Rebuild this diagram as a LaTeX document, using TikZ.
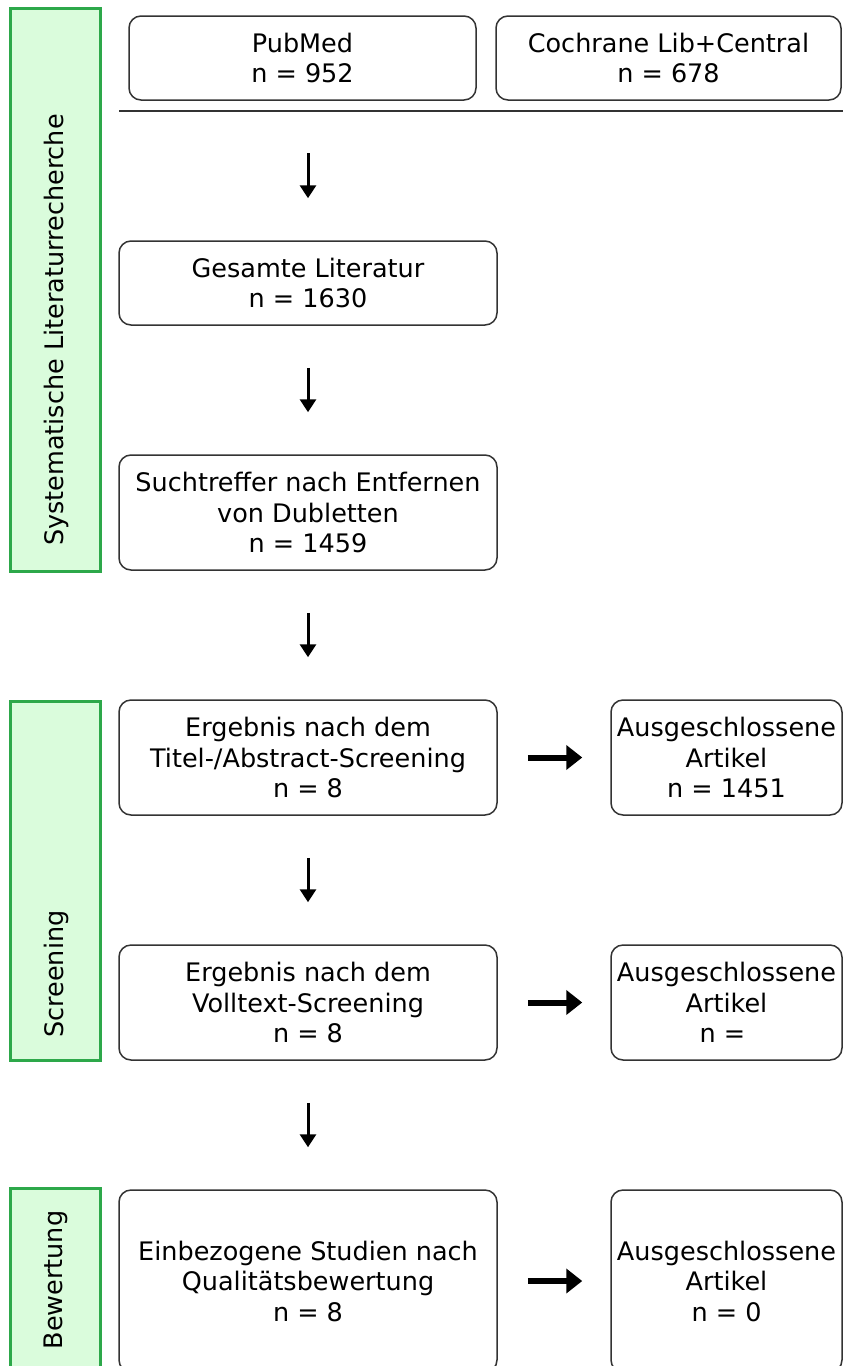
\documentclass[tikz,border=0pt]{standalone}
\usepackage{fontspec}
\setmainfont{DejaVu Sans}
\usepackage{xcolor}
\usetikzlibrary{arrows.meta}
\definecolor{phasegreen}{HTML}{2DA84A}
\definecolor{phasefill}{HTML}{DAFCDC}
\definecolor{boxgray}{HTML}{333333}

\begin{document}
\begin{tikzpicture}[x=1pt,y=-1pt,
		box/.style={draw=boxgray, line width=1.5pt, rounded corners=12pt, align=center, inner sep=2pt, font=\fontsize{25.5pt}{30.5pt}\selectfont},
		phase/.style={draw=phasegreen, fill=phasefill, line width=3pt},
		phasetext/.style={rotate=90, inner sep=0pt, font=\fontsize{25.5pt}{30.5pt}\selectfont},
		down/.style={-{Triangle[length=13pt,width=16pt]}, line width=3pt, shorten <=42pt, shorten >=42pt},
		side/.style={-{Triangle[length=16pt,width=24pt]}, line width=6pt, shorten <=30pt, shorten >=28pt}]
		\clip (0,0) rectangle (843,1366);
		\fill[white] (0,0) rectangle (843,1366);
		\draw[phase] (10,8) rectangle (100,571);
		\draw[phase] (10,701) rectangle (100,1060);
		\draw[phase] (10,1188) rectangle (100,1390);
		\node[phasetext] (searchlbl) at (56,330) {Systematische Literaturrecherche};
		\node[phasetext] (screenlbl) at (56,974) {Screening};
		\node[phasetext] (ratelbl) at (56,1280) {Bewertung};
		\node[box, minimum width=347pt, minimum height=84pt] (pubmed) at (302.5,58) {PubMed\\n = 952};
		\node[box, minimum width=345pt, minimum height=84pt] (cochrane) at (668.5,58) {Cochrane Lib+Central\\n = 678};
		\coordinate (sepL) at (119,111);
		\coordinate (sepR) at (843,111);
		\coordinate (sepM) at (308,111);
		\draw[boxgray, line width=2pt] (sepL) -- (sepR);
		\node[box, minimum width=378pt, minimum height=84pt] (gesamt) at (308,283) {Gesamte Literatur\\n = 1630};
		\node[box, minimum width=378pt, minimum height=115pt] (dubl) at (308,512.5) {Suchtreffer nach Entfernen\\von Dubletten\\n = 1459};
		\node[box, minimum width=378pt, minimum height=115pt] (titel) at (308,757.5) {Ergebnis nach dem\\Titel-/Abstract-Screening\\n = 8};
		\node[box, minimum width=231pt, minimum height=115pt] (excl1) at (726.5,757.5) {Ausgeschlossene\\Artikel\\n = 1451};
		\node[box, minimum width=378pt, minimum height=115pt] (voll) at (308,1002.5) {Ergebnis nach dem\\Volltext-Screening\\n = 8};
		\node[box, minimum width=231pt, minimum height=115pt] (excl2) at (726.5,1002.5) {Ausgeschlossene\\Artikel\\n = \null};
		\node[box, minimum width=378pt, minimum height=182pt] (einb) at (308,1281) {Einbezogene Studien nach\\Qualitätsbewertung\\n = 8};
		\node[box, minimum width=231pt, minimum height=182pt] (excl3) at (726.5,1281) {Ausgeschlossene\\Artikel\\n = 0};
		\draw[down] (sepM) -- (gesamt);
		\draw[down] (gesamt) -- (dubl);
		\draw[down] (dubl) -- (titel);
		\draw[down] (titel) -- (voll);
		\draw[down] (voll) -- (einb);
		\draw[side] (titel) -- (excl1);
		\draw[side] (voll) -- (excl2);
		\draw[side] (einb) -- (excl3);
	\end{tikzpicture}
\end{document}
